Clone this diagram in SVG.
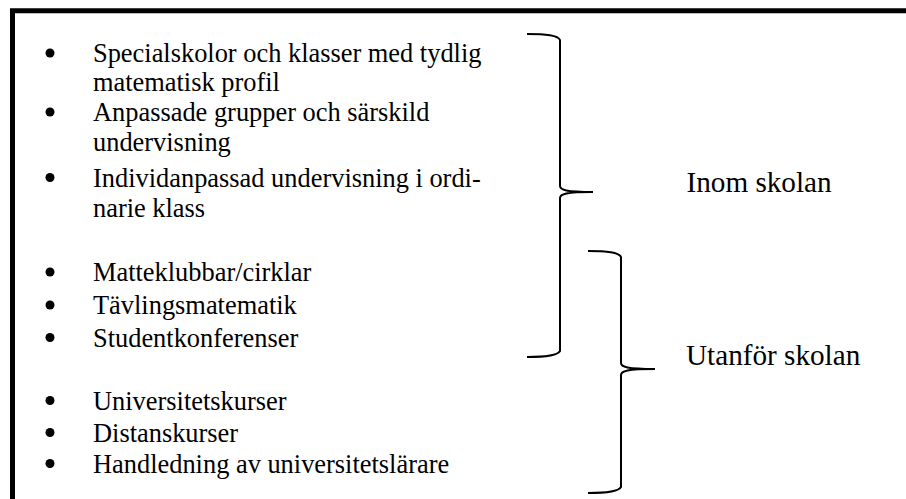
<svg xmlns="http://www.w3.org/2000/svg" width="906" height="499" viewBox="0 0 906 499">
<style>
.t{font-family:"Liberation Serif","Times New Roman",serif;font-size:26.4px;fill:#000}
.lab{font-family:"Liberation Serif","Times New Roman",serif;font-size:29.2px;fill:#000}
.b{fill:#000}
.br{fill:none;stroke:#000;stroke-width:2}
</style>
<rect width="906" height="499" fill="#fff"/>
<path d="M12.5,520 V10.8 H930" fill="none" stroke="#000" stroke-width="5"/>
<g id="inom-list">
<circle class="b" cx="50" cy="53" r="4.5"/>
<text class="t" x="93" y="62">Specialskolor och klasser med tydlig</text>
<text class="t" x="93" y="91">matematisk profil</text>
<circle class="b" cx="50" cy="112" r="4.5"/>
<text class="t" x="93" y="121">Anpassade grupper och särskild</text>
<text class="t" x="93" y="151">undervisning</text>
<circle class="b" cx="50" cy="177.5" r="4.5"/>
<text class="t" x="93" y="186.5">Individanpassad undervisning i ordi-</text>
<text class="t" x="93" y="216.5">narie klass</text>
</g>
<g id="both-list">
<circle class="b" cx="50" cy="272" r="4.5"/>
<text class="t" x="93" y="281">Matteklubbar/cirklar</text>
<circle class="b" cx="50" cy="305" r="4.5"/>
<text class="t" x="93" y="314">Tävlingsmatematik</text>
<circle class="b" cx="50" cy="337.5" r="4.5"/>
<text class="t" x="93" y="346.5">Studentkonferenser</text>
</g>
<g id="utanfor-list">
<circle class="b" cx="50" cy="400.5" r="4.5"/>
<text class="t" x="93" y="409.5">Universitetskurser</text>
<circle class="b" cx="50" cy="432.5" r="4.5"/>
<text class="t" x="93" y="441.5">Distanskurser</text>
<circle class="b" cx="50" cy="463.5" r="4.5"/>
<text class="t" x="93" y="472.5">Handledning av universitetslärare</text>
</g>
<g id="connectors">
<path class="br" d="M527,34 C546,34 558,35 560,40 L560,186 C560,190 566,192 593,192 C566,192 560,194 560,198 L560,351 C558,355 546,357 527,357"/>
<path class="br" d="M588,251 C607,251 619,252 621,257 L621,363 C621,367 627,369 655,369 C627,369 621,371 621,375 L621,487 C619,491 607,493 588,493"/>
</g>
<g id="inom-skolan">
<text class="lab" x="686.5" y="191.7">Inom skolan</text>
</g>
<g id="utanfor-skolan">
<text class="lab" x="686" y="365">Utanför skolan</text>
</g>
</svg>
